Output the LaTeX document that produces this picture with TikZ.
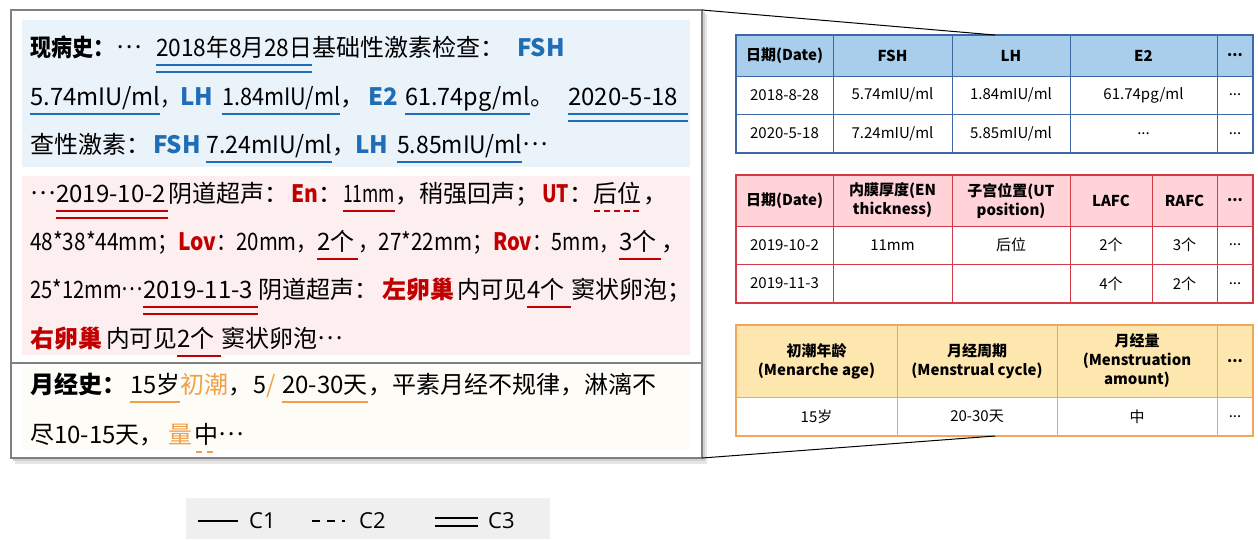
\documentclass[tikz,border=0pt]{standalone}
\usepackage{fontspec}
\usepackage{graphicx}
\setmainfont{Noto Sans CJK SC}
\newfontfamily\lgfont{Open Sans}
\definecolor{cblue}{HTML}{1F6DB5}
\definecolor{cred}{HTML}{C00000}
\definecolor{corange}{HTML}{F0A048}
\definecolor{bgblue}{HTML}{EAF2FA}
\definecolor{bgpink}{HTML}{FDEEEF}
\definecolor{bgyellow}{HTML}{FEFCF7}
\definecolor{tafill}{HTML}{A9CEEB}
\definecolor{taline}{HTML}{3C68A6}
\definecolor{tbfill}{HTML}{FFD3D7}
\definecolor{tbline}{HTML}{D33A48}
\definecolor{tcfill}{HTML}{FEE7AE}
\definecolor{tcline}{HTML}{F2A65C}
\definecolor{lgfill}{HTML}{EFEFEF}
\definecolor{framec}{HTML}{808080}
% fit content into a width (shrink horizontally only when too wide)
\newsavebox\fitbox
\newcommand\fitw[2]{\sbox\fitbox{#2}\ifdim\wd\fitbox>#1pt\resizebox{#1pt}{\ht\fitbox}{\usebox\fitbox}\else\usebox\fitbox\fi}
% segment helpers: width, (colour), content
\newcommand\sg[2]{\hbox to #1pt{\fitw{#1}{#2}\hss}}
\newcommand\us[3]{\hbox to #1pt{\rlap{\color{#2}\rule[-10pt]{#1pt}{2pt}}\fitw{#1}{#3}\hss}}
\newcommand\ud[3]{\hbox to #1pt{\rlap{\color{#2}\rule[-10pt]{#1pt}{2pt}}\rlap{\color{#2}\rule[-16.5pt]{#1pt}{2pt}}\fitw{#1}{#3}\hss}}
\newcommand\uh[3]{\hbox to #1pt{\rlap{\color{#2}\raisebox{-10pt}{\hbox to #1pt{\xleaders\hbox{\rule{6pt}{2pt}\hskip3pt}\hfill}}}\fitw{#1}{#3}\hss}}
\newcommand\kb[1]{{\color{cblue}\bfseries #1}}
\newcommand\kr[1]{{\color{cred}\bfseries #1}}
\newcommand\ko[1]{{\color{corange}#1}}
\newcommand\elp{\raisebox{0.3em}{…}}
\begin{document}
\begin{tikzpicture}[x=1pt,y=-1pt,
  txt/.style={anchor=base west, inner sep=0pt, font=\fontsize{24}{28}\selectfont},
  cell/.style={inner sep=0pt, align=center, font=\fontsize{15}{19}\selectfont},
  hcell/.style={cell, font=\fontsize{15}{19}\selectfont\bfseries},
  lgtext/.style={anchor=west, inner sep=0pt, font=\lgfont\fontsize{22}{24}\selectfont}]
\useasboundingbox (0,0) rectangle (1258,539);

% ---- left text panel ----
\fill[black!10] (15,14) rectangle (707,464);
\fill[black!18] (13,12) rectangle (705,461);
\fill[white] (11,10) rectangle (702,458);
\fill[bgblue] (22,20) rectangle (690,167);
\fill[bgpink] (22,176) rectangle (690,355);
\fill[bgyellow] (22,366) rectangle (690,450);
\draw[framec, line width=1.2pt] (11,10) rectangle (702,458);
\draw[framec, line width=1.2pt] (11,363) -- (702,363);
\coordinate (bTR) at (702,10);
\coordinate (bBR) at (702,458);

% blue block
\node[txt] (a1) at (30,56) {\sg{84}{\bfseries 现病史：}\sg{42}{\hspace{2pt}\elp}\ud{156}{cblue}{2018年8月28日}\sg{205}{基础性激素检查：}\kb{FSH}};
\node[txt] (a2) at (30,105) {\us{130}{cblue}{5.74mIU/ml}\sg{20}{，}\sg{42}{\kb{LH}}\us{118}{cblue}{1.84mIU/ml}\sg{28}{，}\sg{37}{\kb{E2}}\us{125}{cblue}{61.74pg/ml}\sg{38}{。}\ud{120}{cblue}{2020-5-18}};
\node[txt] (a3) at (30,153) {\sg{123}{查性激素：}\sg{53}{\kb{FSH}}\us{126}{cblue}{7.24mIU/ml}\sg{23}{，}\sg{42}{\kb{LH}}\us{125}{cblue}{5.85mIU/ml}\elp};

% pink block
\node[txt] (b1) at (30,202) {\sg{26}{\elp}\ud{112}{cred}{2019-10-2}\sg{123}{阴道超声：}\sg{27}{\kr{En}}\sg{25}{：}\us{52}{cred}{11mm}\sg{147}{，稍强回声；}\sg{27}{\kr{UT}}\sg{24}{：}\uh{50}{cred}{后位}，};
\node[txt] (b2) at (30,250) {\sg{148}{48*38*44mm；}\sg{38}{\kr{Lov}}\sg{101}{：20mm，}\us{41}{cred}{2个}\sg{135}{，27*22mm；}\sg{39}{\kr{Rov}}\sg{87}{：5mm，}\us{42}{cred}{3个}，};
\node[txt] (b3) at (30,298) {\sg{113}{25*12mm\elp}\ud{115}{cred}{2019-11-3}\sg{124}{阴道超声：}\sg{75}{\kr{左卵巢}}\sg{70}{内可见}\us{44}{cred}{4个}窦状卵泡；};
\node[txt] (b4) at (30,347) {\sg{76}{\kr{右卵巢}}\sg{71}{内可见}\us{44}{cred}{2个}窦状卵泡\elp};

% yellow block
\node[txt] (c1) at (30,393) {\sg{100}{\bfseries 月经史：}\us{50}{corange}{15岁}\sg{48}{\ko{初潮}}\sg{25}{，}\sg{13}{5}\sg{16}{\ko{/}}\us{86}{corange}{20-30天}，平素月经不规律，淋漓不};
\node[txt] (c2) at (30,443) {\sg{138}{尽10-15天，}\sg{26}{\ko{量}}\uh{24}{corange}{中}\elp};

% ---- table A (hormones) ----
\fill[tafill] (736,35) rectangle (1253,76);
\draw[taline, line width=1.2pt] (736,35) rectangle (1253,153);
\draw[taline, line width=1pt] (736,76) -- (1253,76) (736,114) -- (1253,114);
\foreach \x in {833,952,1070,1217} \draw[taline, line width=1pt] (\x,35) -- (\x,153);
\coordinate (taTop) at (995,35);
\node[hcell] (ta11) at (784.5,55.5) {日期(Date)};
\node[hcell] (ta12) at (892.5,55.5) {FSH};
\node[hcell] (ta13) at (1011,55.5) {LH};
\node[hcell] (ta14) at (1143.5,55.5) {E2};
\node[hcell] (ta15) at (1235,55.5) {...};
\node[cell] (ta21) at (784.5,95) {2018-8-28};
\node[cell] (ta22) at (892.5,95) {5.74mIU/ml};
\node[cell] (ta23) at (1011,95) {1.84mIU/ml};
\node[cell] (ta24) at (1143.5,95) {61.74pg/ml};
\node[cell] (ta25) at (1235,95) {...};
\node[cell] (ta31) at (784.5,133.5) {2020-5-18};
\node[cell] (ta32) at (892.5,133.5) {7.24mIU/ml};
\node[cell] (ta33) at (1011,133.5) {5.85mIU/ml};
\node[cell] (ta34) at (1143.5,133.5) {...};
\node[cell] (ta35) at (1235,133.5) {...};

% ---- table B (ultrasound) ----
\fill[tbfill] (736,175) rectangle (1253,226);
\draw[tbline, line width=1.2pt] (736,175) rectangle (1253,303);
\draw[tbline, line width=1pt] (736,226) -- (1253,226) (736,264) -- (1253,264);
\foreach \x in {833,952,1070,1152,1217} \draw[tbline, line width=1pt] (\x,175) -- (\x,303);
\node[hcell] (tb11) at (784.5,200.5) {日期(Date)};
\node[hcell] (tb12) at (892.5,200.5) {内膜厚度(EN\\thickness)};
\node[hcell] (tb13) at (1011,200.5) {子宫位置(UT\\position)};
\node[hcell] (tb14) at (1111,200.5) {LAFC};
\node[hcell] (tb15) at (1184.5,200.5) {RAFC};
\node[hcell] (tb16) at (1235,200.5) {...};
\node[cell] (tb21) at (784.5,245) {2019-10-2};
\node[cell] (tb22) at (892.5,245) {11mm};
\node[cell] (tb23) at (1011,245) {后位};
\node[cell] (tb24) at (1111,245) {2个};
\node[cell] (tb25) at (1184.5,245) {3个};
\node[cell] (tb26) at (1235,245) {...};
\node[cell] (tb31) at (784.5,283.5) {2019-11-3};
\node[cell] (tb34) at (1111,283.5) {4个};
\node[cell] (tb35) at (1184.5,283.5) {2个};
\node[cell] (tb36) at (1235,283.5) {...};

% ---- table C (menstruation) ----
\fill[tcfill] (736,325) rectangle (1253,397);
\draw[tcline, line width=1.2pt] (736,325) rectangle (1253,436);
\draw[tcline, line width=1pt] (736,397) -- (1253,397);
\foreach \x in {897,1057,1217} \draw[tcline, line width=1pt] (\x,325) -- (\x,436);
\coordinate (tcBot) at (995,436);
\node[hcell] (tc11) at (816.5,361) {初潮年龄\\(Menarche age)};
\node[hcell] (tc12) at (977,361) {月经周期\\(Menstrual cycle)};
\node[hcell] (tc13) at (1137,361) {月经量\\(Menstruation\\amount)};
\node[hcell] (tc14) at (1235,361) {...};
\node[cell] (tc21) at (816.5,416.5) {15岁};
\node[cell] (tc22) at (977,416.5) {20-30天};
\node[cell] (tc23) at (1137,416.5) {中};
\node[cell] (tc24) at (1235,416.5) {...};

% ---- zoom connectors ----
\draw[black, line width=1pt] (bTR) -- (taTop);
\draw[black, line width=1pt] (bBR) -- (tcBot);

% ---- legend ----
\fill[lgfill] (186,498) rectangle (550,539);
\coordinate (l1a) at (198,521); \coordinate (l1b) at (238,521);
\coordinate (l2a) at (312,521); \coordinate (l2b) at (346,521);
\coordinate (l3a) at (435,517.5); \coordinate (l3b) at (478,517.5);
\coordinate (l4a) at (435,525.5); \coordinate (l4b) at (478,525.5);
\draw[line width=2pt] (l1a) -- (l1b);
\draw[line width=2pt, dash pattern=on 8pt off 7pt on 8pt off 7pt on 3pt off 20pt] (l2a) -- (l2b);
\draw[line width=2pt] (l3a) -- (l3b);
\draw[line width=2pt] (l4a) -- (l4b);
\node[lgtext] (lg1) at (249,521) {C1};
\node[lgtext] (lg2) at (359,521) {C2};
\node[lgtext] (lg3) at (488,521) {C3};
\end{tikzpicture}
\end{document}
